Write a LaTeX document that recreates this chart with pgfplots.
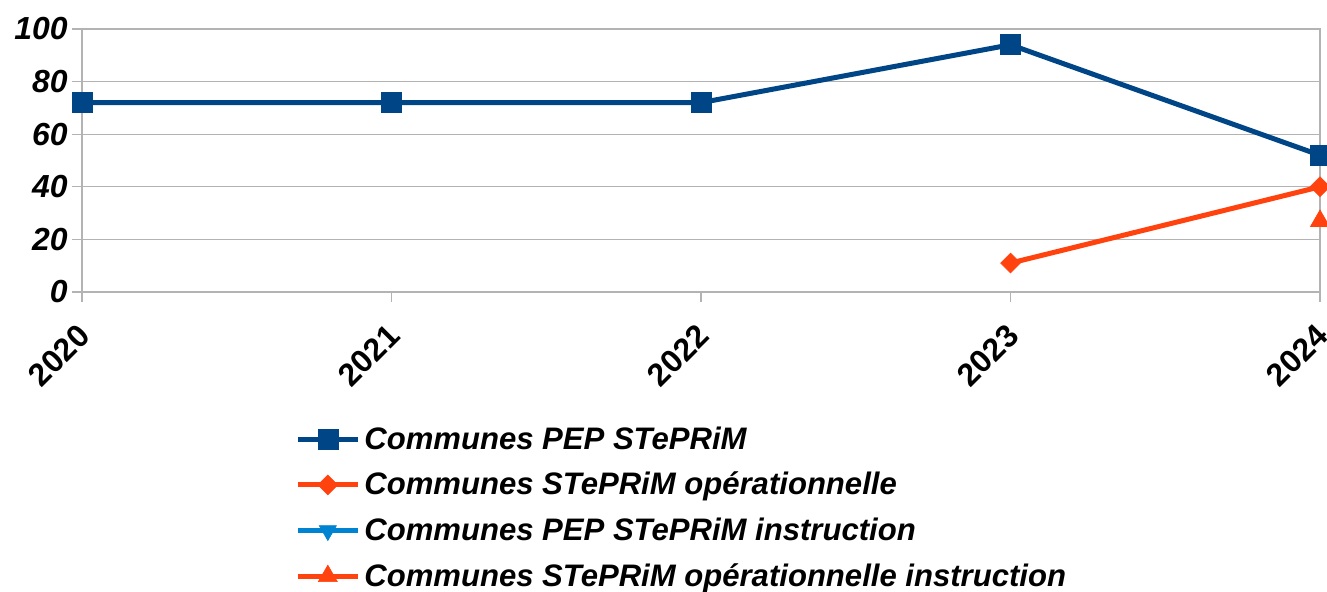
\documentclass[border=0pt]{standalone}
\usepackage{fontspec}
\setmainfont{Liberation Sans}
\usepackage{pgfplots}
\pgfplotsset{compat=1.18}
\definecolor{sBlue}{HTML}{004586}
\definecolor{sOrange}{HTML}{FF420E}
\definecolor{sLight}{HTML}{0084D1}
\definecolor{gridg}{HTML}{B3B3B3}
\begin{document}
\begin{tikzpicture}
\path[use as bounding box] (-41bp,-150bp) rectangle (622.5bp,146bp);
\begin{axis}[
  at={(0,0)}, anchor=south west,
  scale only axis, width=619bp, height=131.5bp,
  clip=false,
  xmin=0, xmax=4, ymin=0, ymax=100,
  xtick={0,1,2,3,4}, xticklabels={2020,2021,2022,2023,2024},
  ytick={0,20,40,60,80,100},
  xtick pos=bottom, ytick pos=left,
  ymajorgrids, grid style={gridg, line width=0.6bp},
  axis line style={gridg, line width=0.6bp},
  tick style={gridg, line width=0.6bp},
  tick align=outside, major tick length=5bp,
  /pgf/number format/assume math mode=true,
  yticklabel style={font=\fontsize{16}{19}\selectfont\bfseries\itshape, inner sep=2bp},
  xticklabel style={font=\fontsize{16}{19}\selectfont\bfseries, rotate=45, anchor=north east, inner sep=2bp, xshift=-7bp, yshift=-3bp},
  legend style={draw=none, at={(axis description cs:0.172,-0.495)}, anchor=north west,
    font=\fontsize{15.6}{18.5}\selectfont\bfseries\itshape, row sep=6bp, inner sep=0pt},
  legend cell align=left,
  legend image code/.code={\draw[mark repeat=2,mark phase=2,#1] plot coordinates {(0bp,0bp) (15bp,0bp) (30bp,0bp)};},
]
\addplot[sBlue, line width=2.5bp, mark=square*, mark size=5bp, mark options={solid, line width=0.3bp}] coordinates {(0,72) (1,72) (2,72) (3,94) (4,52)};
\addlegendentry{Communes PEP STePRiM}
\addplot[sOrange, line width=2.5bp, mark=square*, mark size=3.5bp, mark options={solid, line width=0.3bp, rotate=45}] coordinates {(3,11) (4,40)};
\addlegendentry{Communes STePRiM opérationnelle}
\addlegendimage{sLight, line width=2.5bp, mark=triangle*, mark size=5bp, mark options={solid, line width=0.3bp, rotate=180}}
\addlegendentry{Communes PEP STePRiM instruction}
\addplot[sOrange, line width=2.5bp, mark=triangle*, mark size=5.5bp, mark options={solid, line width=0.3bp}] coordinates {(4,27)};
\addlegendentry{Communes STePRiM opérationnelle instruction}
\end{axis}
\end{tikzpicture}
\end{document}
